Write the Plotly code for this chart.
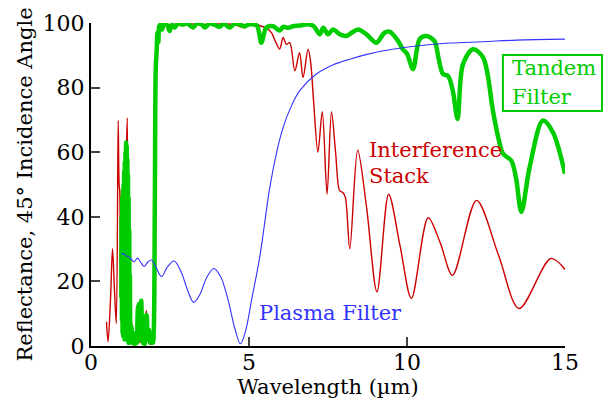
import plotly.graph_objects as go

# Plasma filter (blue)
plasma_x = [0.96,1.05,1.12,1.20,1.28,1.36,1.47,1.57,1.68,1.80,1.91,2.05,2.23,2.42,2.63,2.85,3.05,3.25,3.45,3.65,3.89,4.10,4.34,4.55,4.73,4.90,5.08,5.34,5.66,5.90,6.08,6.35,6.60,7.13,7.65,8.19,8.70,9.24,9.77,10.30,11.35,12.40,13.46,15.0]
plasma_y = [28.6,28.4,27.9,27.6,26.8,26.1,27.2,26.0,24.6,26.0,26.6,24.5,21.5,24.5,26.3,23.0,17.5,13.5,16.0,21.0,24.0,21.5,14.2,5.5,0.7,5.0,14.2,27.5,49.2,61.0,67.7,74.5,79.0,84.2,87.0,88.8,90.2,91.4,92.2,92.9,93.8,94.2,94.7,95.0]

# Interference stack (red)
stack_x = [0.49,0.54,0.62,0.68,0.74,0.80,0.86,0.89,0.91,0.93,0.95,0.97,1.00,1.03,1.06,1.09,1.12,1.15,1.18,1.21,1.24,1.28,1.32,1.36,1.40,1.45,1.50,1.55,1.60,1.66,1.72,1.75,1.79,1.84,1.90,1.96,2.00,2.04,2.08,2.12,2.2,2.5,3.0,3.5,4.0,4.5,4.87,5.0,5.23,5.39,5.55,5.71,5.85,5.97,6.08,6.18,6.29,6.45,6.60,6.71,6.87,6.95,7.05,7.18,7.32,7.47,7.61,7.74,7.87,7.97,8.05,8.19,8.44,8.72,9.05,9.42,9.78,10.14,10.67,11.05,11.44,12.20,12.9,13.55,14.55,15.0]
stack_y = [7.5,1.3,15,30.1,18,7.0,69.8,50,48,18,40,8,45,5,55,8,60,70.6,10,45,3,8,1,4,0.5,3,7,1,4,1,7,11,3,5,0.5,2,20,75,93,98,99.5,99.5,99.8,99.5,99.7,99.6,98.5,99.6,99.6,99,98.5,97,94,91.9,95.5,93.4,93.9,85.2,90.8,83.1,91.9,88,75,60,72.5,47,72.5,60,48.1,47.5,46,30.1,60.6,43,16.8,47,31,14.7,39.7,32,21.9,45.1,28,11.6,27.1,23.7]

# Tandem filter (green)
tandem_x = [0.96,0.97,0.98,0.99,1.00,1.01,1.02,1.03,1.04,1.05,1.06,1.07,1.08,1.09,1.10,1.11,1.12,1.13,1.14,1.15,1.16,1.17,1.18,1.19,1.20,1.21,1.22,1.23,1.25,1.28,1.31,1.34,1.38,1.42,1.45,1.48,1.51,1.53,1.56,1.59,1.61,1.64,1.67,1.70,1.73,1.76,1.79,1.83,1.87,1.91,1.96,1.99,2.02,2.05,2.08,2.10,2.13,2.16,2.20,2.25,2.30,2.40,2.49,2.56,2.65,2.75,2.9,3.05,3.23,3.35,3.5,3.60,3.75,3.9,4.07,4.2,4.39,4.55,4.7,4.86,5.02,5.25,5.39,5.55,5.76,5.97,6.08,6.25,6.39,6.6,6.87,7.05,7.24,7.35,7.50,7.66,7.87,8.08,8.25,8.45,8.72,9.03,9.29,9.45,9.72,9.87,10.0,10.19,10.40,10.61,10.87,11.00,11.14,11.30,11.45,11.60,11.77,12.09,12.41,12.72,12.9,13.04,13.30,13.45,13.62,13.88,14.30,14.62,15.0]
tandem_y = [15,40,8,46,4,48,3,50,6,54,2,57,5,60,3,63,4,62,2,58,5,53,1,46,3,36,1,22,2,6,1,4,0.5,3,1,11,13,5,2,14,7,1,3,0.5,9,9.6,2,5,1,2.5,1,6,45,86,92,97,94,99,99.5,98,99.8,99.5,97.5,99.5,98.6,99.8,99.5,99.8,98.6,99.8,99.6,98.6,99.8,99.5,98.8,99.8,98.6,99.8,99.6,99,99.6,99.2,93.9,98.6,99,97.7,98.8,98.5,99,99.2,99.6,99,96.5,98.5,96.5,98,96.5,96,97,98,96.5,93.9,97,97.3,94.4,91.8,90.5,85.7,95,96,94.4,89,84.2,83.6,79,70.3,87.2,91.9,89.3,72.8,64,59.5,57.4,52,41.5,55.3,69.8,66.1,53.3]

x_ticks = [0, 5, 10, 15]
y_ticks = [0, 20, 40, 60, 80, 100]

GREEN = "#00cc00"
RED = "#cc0000"
BLUE = "#3333ff"
FONT = "DejaVu Serif"

fig = go.Figure()
fig.add_trace(go.Scatter(x=stack_x, y=stack_y, mode="lines",
                         line=dict(color=RED, width=1.4, shape="spline", smoothing=0.9)))
fig.add_trace(go.Scatter(x=tandem_x, y=tandem_y, mode="lines",
                         line=dict(color=GREEN, width=4.5, shape="spline", smoothing=0.9)))
fig.add_trace(go.Scatter(x=plasma_x, y=plasma_y, mode="lines",
                         line=dict(color=BLUE, width=1.1, shape="spline", smoothing=1.0)))

fig.update_layout(
    template="none",
    width=607, height=400,
    margin=dict(l=91, r=42, t=23, b=54),
    paper_bgcolor="white", plot_bgcolor="white",
    showlegend=False,
    font=dict(family=FONT, size=22, color="black"),
    xaxis=dict(range=[0, 15], tickvals=x_ticks, ticks="inside", ticklen=9, tickwidth=2,
               showline=True, linewidth=2, linecolor="black", showgrid=False, zeroline=False,
               tickfont=dict(family=FONT, size=22), ticklabelstandoff=-4,
               title=dict(text="Wavelength (µm)", font=dict(family=FONT, size=21), standoff=4)),
    yaxis=dict(range=[0, 100], tickvals=y_ticks, ticks="inside", ticklen=9, tickwidth=2,
               showline=True, linewidth=2, linecolor="black", showgrid=False, zeroline=False,
               tickfont=dict(family=FONT, size=22),
               title=dict(text="Reflectance, 45° Incidence Angle", font=dict(family=FONT, size=21), standoff=4)),
)

anns = [
    dict(text="Plasma Filter", x=5.24, y=6.0, color=BLUE),
    dict(text="Interference", x=8.73, y=56.3, color=RED),
    dict(text="Stack", x=8.73, y=48.3, color=RED),
    dict(text="Tandem", x=13.26, y=81.6, color=GREEN),
    dict(text="Filter", x=13.26, y=72.8, color=GREEN),
]
for a in anns:
    fig.add_annotation(x=a["x"], y=a["y"], xref="x", yref="y", text=a["text"], showarrow=False,
                       xanchor="left", yanchor="bottom",
                       font=dict(family=FONT, size=21, color=a["color"]))

fig.add_shape(type="rect", xref="paper", yref="paper", x0=0.869, x1=1.078, y0=0.7276, y1=0.9009,
              line=dict(color=GREEN, width=2))

fig.write_html("out.html")
